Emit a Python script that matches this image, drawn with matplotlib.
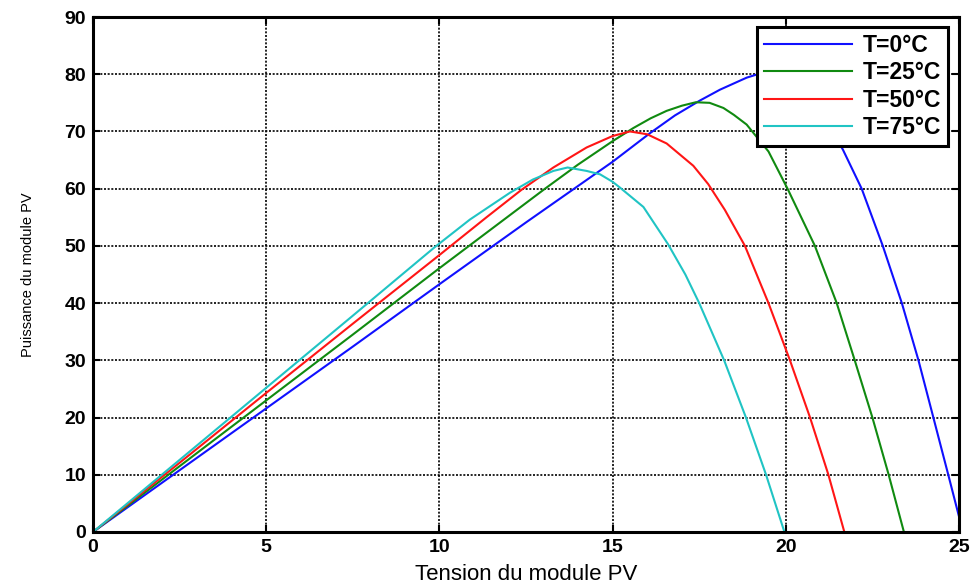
import matplotlib
matplotlib.use("Agg")
import matplotlib.pyplot as plt

# ---- data ----
v_t0 = [0, 2.5, 5, 7.5, 10.0, 12.5, 15.0, 16.08, 16.8, 17.52, 18.1, 18.87,
        19.4, 19.9, 20.4, 21.0, 21.65, 22.19, 22.8, 23.35, 23.83, 24.26, 24.69, 25.0]
p_t0 = [0, 10.8, 21.6, 32.4, 43.3, 54.1, 64.7, 69.7, 72.8, 75.4, 77.3, 79.4,
        80.4, 80.7, 78.8, 73.8, 66.8, 60.0, 50.0, 40.0, 30.0, 20.0, 10.0, 2.7]

v_t25 = [0, 2.5, 5, 7.5, 10.0, 13.05, 14.0, 15.0, 15.6, 16.1, 16.56, 17.0, 17.4,
         17.8, 18.2, 18.5, 18.87, 19.5, 20.05, 20.84, 21.47, 21.99, 22.5, 22.97, 23.41]
p_t25 = [0, 11.5, 23.0, 34.5, 46.1, 60.0, 64.2, 68.3, 70.6, 72.3, 73.6, 74.5, 75.1,
         75.0, 74.1, 72.9, 71.2, 66.5, 60.0, 50.0, 40.0, 30.0, 20.0, 10.0, 0]

v_t50 = [0, 2.5, 5, 7.5, 10.0, 11.36, 12.37, 13.29, 14.25, 15.0, 15.5, 16.0,
         16.56, 17.33, 17.76, 18.24, 18.82, 19.5, 20.12, 20.7, 21.23, 21.69]
p_t50 = [0, 12.1, 24.3, 36.4, 48.4, 55.0, 59.8, 63.7, 67.2, 69.2, 70.0, 69.5,
         67.9, 64.0, 60.8, 56.3, 50.0, 40.0, 30.0, 20.0, 10.0, 0]

v_t75 = [0, 2.5, 5, 7.5, 9.87, 10.88, 12.04, 12.7, 13.29, 13.7, 14.25, 14.64,
         15.0, 15.21, 15.89, 16.6, 17.1, 17.5, 18.22, 18.85, 19.43, 19.96]
p_t75 = [0, 12.6, 25.2, 37.8, 49.8, 54.6, 59.3, 61.6, 63.1, 63.7, 63.1, 62.5,
         61.2, 60.2, 56.8, 50.3, 45.0, 40.0, 30.0, 20.0, 10.0, 0]

labels = ["T=0°C", "T=25°C", "T=50°C", "T=75°C"]
x_ticks = [0, 5, 10, 15, 20, 25]
y_ticks = [0, 10, 20, 30, 40, 50, 60, 70, 80, 90]
x_label = "Tension du module PV"
y_label = "Puissance du module PV"

plt.rcParams['font.family'] = ['Liberation Sans', 'DejaVu Sans']

fig = plt.figure(figsize=(9.77, 5.85), dpi=100)
ax = fig.add_axes([93/977, 1 - 532/585, 866/977, 515/585])

series = [(v_t0, p_t0, '#1010FF'), (v_t25, p_t25, '#108A10'),
          (v_t50, p_t50, '#FF1515'), (v_t75, p_t75, '#20C4C4')]
for (v, p, c), lab in zip(series, labels):
    ax.plot(v, p, color=c, lw=1.5, label=lab)

ax.set_xlim(0, 25)
ax.set_ylim(0, 90)
ax.set_xticks(x_ticks)
ax.set_yticks(y_ticks)
ax.grid(True, color='black', linestyle=(0, (1.2, 1.0)), linewidth=1.2)
ax.set_axisbelow(True)
ax.tick_params(direction='in', top=True, right=True, length=5, width=1.5,
               labelsize=14, pad=5, colors='black')
for lab in ax.get_xticklabels() + ax.get_yticklabels():
    lab.set_fontweight('bold')
for s in ax.spines.values():
    s.set_linewidth(2.2)
    s.set_color('black')

ax.set_xlabel(x_label, fontsize=16, labelpad=6)
ax.set_ylabel(y_label, fontsize=10.5, labelpad=21)

leg = ax.legend(loc='upper right', bbox_to_anchor=(0.987, 0.981),
                borderaxespad=0, fancybox=False, framealpha=1,
                edgecolor='black', handlelength=3.85,
                labelspacing=0.2, handletextpad=0.45, borderpad=0.3,
                prop={'size': 16.5, 'weight': 'bold'})
leg.get_frame().set_linewidth(2.2)

fig.savefig("out.png", dpi=100)
